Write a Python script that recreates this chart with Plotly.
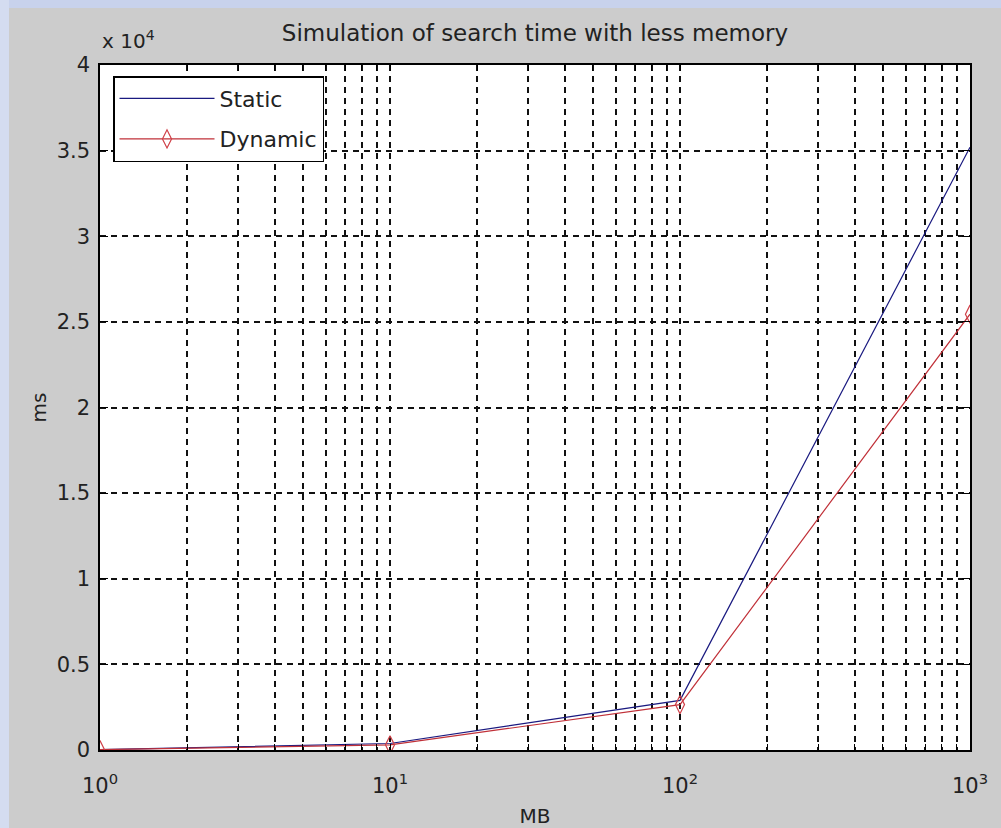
import plotly.graph_objects as go

# ---- data ----
mb = [1, 10, 100, 1000]
static_ms = [20, 380, 2900, 35200]
dynamic_ms = [20, 300, 2650, 25450]

x_tick_vals = [m * 10 ** d for d in range(0, 3) for m in range(1, 10)] + [1000]
x_tick_text = ["10<sup>%d</sup>" % d if m == 1 else "" for d in range(0, 3) for m in range(1, 10)] + ["10<sup>3</sup>"]
y_tick_vals = [0, 5000, 10000, 15000, 20000, 25000, 30000, 35000, 40000]
y_tick_text = ["0", "0.5", "1", "1.5", "2", "2.5", "3", "3.5", "4"]

FONT = "DejaVu Sans"
W, H = 1001, 828
L, R, T, B = 100, 970, 65, 750
PH = B - T
PW = R - L

fig = go.Figure()
fig.add_trace(go.Scatter(x=mb, y=static_ms, mode="lines", name="Static",
                         legendgroup="s",
                         line=dict(color="#1a1a80", width=1.2)))
fig.add_trace(go.Scatter(x=mb, y=dynamic_ms, mode="lines+markers", name="Dynamic",
                         legendgroup="d",
                         line=dict(color="#c03038", width=1.2),
                         marker=dict(symbol="diamond-tall-open", size=13,
                                     color="#d04048", line=dict(width=1.2))))

grid = dict(showgrid=True, gridcolor="#111111", gridwidth=1.5, griddash="6px,5px")

fig.update_xaxes(type="log", range=[0, 3], tickvals=x_tick_vals, ticktext=x_tick_text,
                 ticks="inside", ticklen=6, tickcolor="black",
                 showline=True, linecolor="black", linewidth=1.5, mirror="allticks",
                 zeroline=False, tickfont=dict(family=FONT, size=21, color="#222"),
                 ticklabelstandoff=16, automargin=False,
                 title=dict(text="MB", font=dict(family=FONT, size=20, color="#222"), standoff=14),
                 **grid)
fig.update_yaxes(range=[0, 40000], tickvals=y_tick_vals, ticktext=y_tick_text,
                 ticks="inside", ticklen=8, tickcolor="black",
                 showline=True, linecolor="black", linewidth=1.5, mirror="allticks",
                 zeroline=False, tickfont=dict(family=FONT, size=21, color="#222"),
                 ticklabelstandoff=4, automargin=False,
                 title=dict(text="ms", font=dict(family=FONT, size=20, color="#222"), standoff=5),
                 **grid)

fig.update_layout(
    width=W, height=H,
    margin=dict(l=L, r=W - R, t=T, b=H - B),
    paper_bgcolor="#cccccc", plot_bgcolor="white",
    title=dict(text="Simulation of search time with less memory",
               font=dict(family=FONT, size=23, color="#222"),
               x=(L + R) / 2 / W, xanchor="center", y=1 - 33 / H, yanchor="middle"),
    legend=dict(x=13 / PW, y=1 - 11 / PH, xanchor="left", yanchor="top",
                bgcolor="white", bordercolor="black", borderwidth=1.5,
                traceorder="grouped", tracegroupgap=9,
                font=dict(family=FONT, size=22, color="#222"), itemwidth=95),
    showlegend=True,
    annotations=[dict(text="x 10<sup>4</sup>", xref="paper", yref="paper",
                      x=0, y=1, xanchor="left", yanchor="bottom", yshift=10,
                      showarrow=False, font=dict(family=FONT, size=20, color="#222"))],
    shapes=[
        dict(type="rect", xref="paper", yref="paper", x0=-L / PW, x1=(W - L) / PW,
             y0=1 + (T - 8) / PH, y1=1 + T / PH, line=dict(width=0), fillcolor="#c8d2ec", layer="below"),
        dict(type="rect", xref="paper", yref="paper", x0=-L / PW, x1=(9 - L) / PW,
             y0=-(H - B) / PH, y1=1 + T / PH, line=dict(width=0), fillcolor="#d4dcf0", layer="below"),
    ],
)

fig.write_html("out.html")
